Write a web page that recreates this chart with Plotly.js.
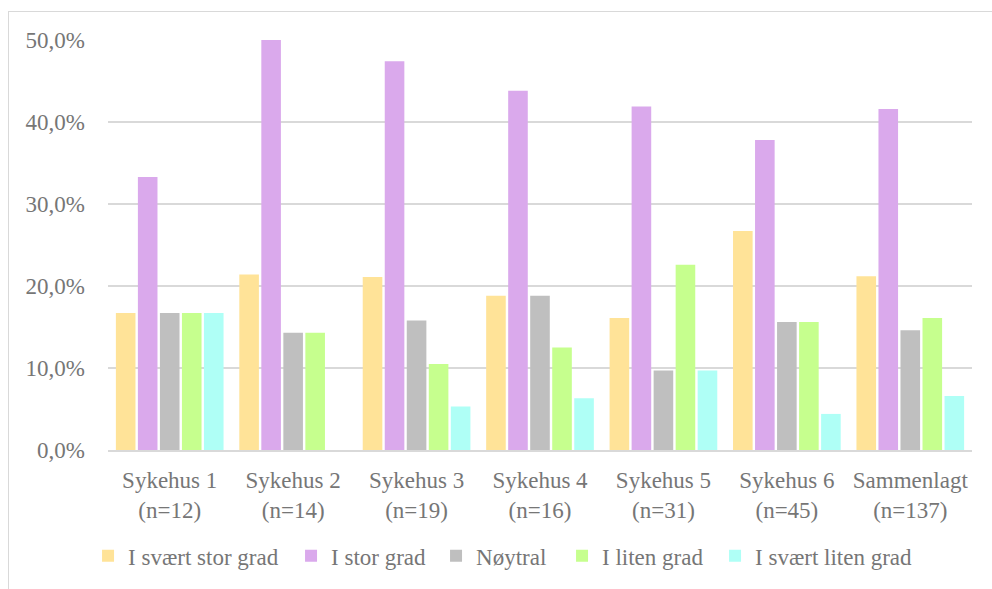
<!DOCTYPE html>
<html>
<head>
<meta charset="utf-8">
<script src="https://cdn.plot.ly/plotly-3.0.1.min.js"></script>
<style>
  html, body { margin: 0; padding: 0; background: #fff; }
  #wrap { position: relative; width: 992px; height: 589px; overflow: hidden; }
  #frame { position: absolute; left: 8px; top: 11px; width: 1000px; height: 600px;
           border: 1px solid #d9d9d9; box-sizing: border-box; pointer-events: none; z-index: 2; }
  #chart { position: absolute; left: 0; top: 0; width: 992px; height: 589px; }
</style>
</head>
<body>
<div id="wrap">
  <div id="chart"></div>
  <div id="frame"></div>
</div>
<script>
// Hospitals and respondent counts
const categories = ["Sykehus 1", "Sykehus 2", "Sykehus 3", "Sykehus 4", "Sykehus 5", "Sykehus 6", "Sammenlagt"];
const counts = [12, 14, 19, 16, 31, 45, 137];

// Share of answers (%) per response option
const iSvaertStorGrad = [16.7, 21.4, 21.1, 18.8, 16.1, 26.7, 21.2];
const iStorGrad       = [33.3, 50.0, 47.4, 43.8, 41.9, 37.8, 41.6];
const noytral         = [16.7, 14.3, 15.8, 18.8, 9.7, 15.6, 14.6];
const iLitenGrad      = [16.7, 14.3, 10.5, 12.5, 22.6, 15.6, 16.1];
const iSvaertLitenGrad= [16.7, 0.0, 5.3, 6.3, 9.7, 4.4, 6.6];

const seriesNames = ["I svært stor grad", "I stor grad", "Nøytral", "I liten grad", "I svært liten grad"];
const seriesColors = ["#FFE398", "#DAA9EC", "#BFBFBF", "#C6FF8E", "#AFFFF6"];
const seriesValues = [iSvaertStorGrad, iStorGrad, noytral, iLitenGrad, iSvaertLitenGrad];
// width reserved for each legend entry's text
const legendWidths = [158, 100, 81, 108, 170];

const tickLabels = categories.map((c, i) => c + "<br>(n=" + counts[i] + ")");

const traces = seriesValues.map((vals, k) => ({
  type: "bar",
  name: seriesNames[k],
  x: categories,
  y: vals,
  legendwidth: legendWidths[k],
  marker: { color: seriesColors[k], line: { width: 0 } },
  hoverinfo: "x+y+name"
}));

const fontFamily = "Liberation Serif, Times New Roman, serif";
const textFont = { family: fontFamily, size: 23, color: "#767676" };
const layout = {
  width: 992,
  height: 589,
  paper_bgcolor: "#ffffff",
  plot_bgcolor: "#ffffff",
  margin: { l: 108, r: 20, t: 40, b: 137 },
  barmode: "group",
  bargap: 0.108,
  bargroupgap: 0.11,
  font: textFont,
  xaxis: {
    tickmode: "array",
    tickvals: categories,
    ticktext: tickLabels,
    showgrid: false,
    showline: true,
    linecolor: "#d9d9d9",
    linewidth: 2,
    ticks: "",
    ticklabelstandoff: 8,
    tickfont: textFont,
    fixedrange: true
  },
  yaxis: {
    range: [0, 50],
    tickvals: [0, 10, 20, 30, 40, 50],
    ticktext: ["0,0%", "10,0%", "20,0%", "30,0%", "40,0%", "50,0%"],
    showgrid: true,
    gridcolor: "#d9d9d9",
    gridwidth: 1.5,
    zeroline: false,
    showline: false,
    ticks: "",
    ticklabelstandoff: 22,
    tickfont: textFont,
    fixedrange: true
  },
  showlegend: true,
  legend: {
    orientation: "h",
    x: -0.0231,
    xanchor: "left",
    y: -0.258,
    yanchor: "middle",
    font: textFont,
    traceorder: "normal",
    itemclick: false,
    itemdoubleclick: false
  }
};

Plotly.newPlot("chart", traces, layout, { displayModeBar: false, staticPlot: true });
</script>
</body>
</html>
